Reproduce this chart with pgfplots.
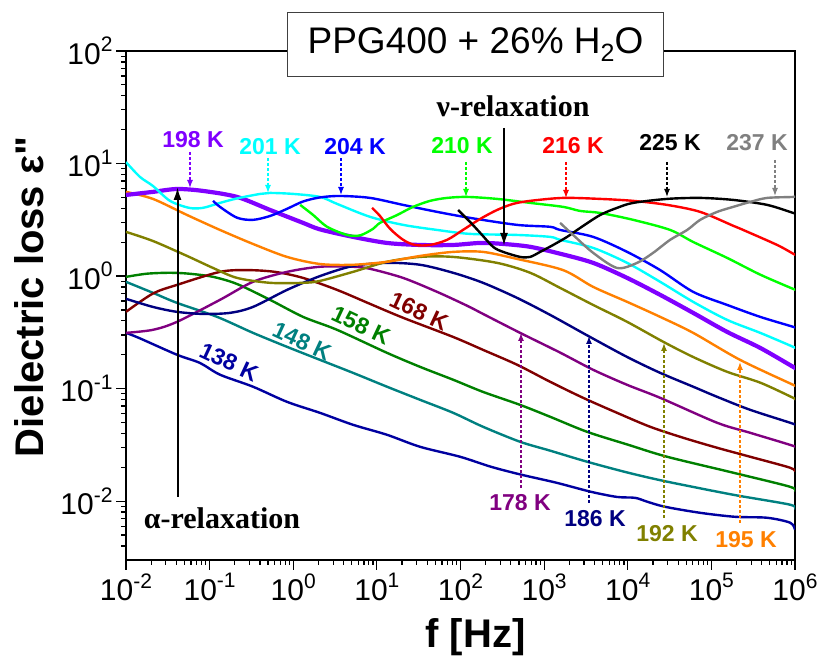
\documentclass[border=0pt]{standalone}
\usepackage{fontspec}
\setmainfont{Liberation Sans}
\newfontfamily\serifbf{Liberation Serif}
\newfontfamily\sansplain{Liberation Sans}[Ligatures=TeXOff]
\usepackage{pgfplots}
\pgfplotsset{compat=1.18}
\usetikzlibrary{arrows.meta}

\definecolor{cNavyA}{RGB}{0,0,160}
\definecolor{cTeal}{RGB}{0,128,128}
\definecolor{cGreenD}{RGB}{0,128,0}
\definecolor{cMaroon}{RGB}{128,0,0}
\definecolor{cPurple}{RGB}{128,0,128}
\definecolor{cNavyB}{RGB}{0,0,128}
\definecolor{cOlive}{RGB}{128,128,0}
\definecolor{cOrange}{RGB}{255,128,0}
\definecolor{cViolet}{RGB}{128,0,255}
\definecolor{cCyan}{RGB}{0,255,255}
\definecolor{cBlue}{RGB}{0,0,255}
\definecolor{cLime}{RGB}{0,255,0}
\definecolor{cRed}{RGB}{255,0,0}
\definecolor{cGray}{RGB}{128,128,128}

\newcommand{\pw}[1]{10\raisebox{0.42em}{\fontsize{21}{21}\selectfont #1}}

\begin{document}
\begin{tikzpicture}
\useasboundingbox (-126pt,-98pt) rectangle (695pt,560pt);
\begin{axis}[
  at={(0pt,0pt)}, anchor=south west,
  scale only axis, width=669pt, height=509pt,
  xmode=log, ymode=log,
  xmin=1e-2, xmax=1e6, ymin=3e-3, ymax=100,
  tick pos=left, tick align=outside,
  major tick length=10pt, minor tick length=5pt,
  axis line style={line width=1.3pt},
  tick style={line width=1.2pt, black},
  xtick={1e-2,1e-1,1,10,100,1e3,1e4,1e5,1e6},
  xticklabels={\pw{-2},\pw{-1},\pw{0},\pw{1},\pw{2},\pw{3},\pw{4},\pw{5},\pw{6}},
  minor xtick={2e-2,3e-2,4e-2,5e-2,6e-2,7e-2,8e-2,9e-2,
    2e-1,3e-1,4e-1,5e-1,6e-1,7e-1,8e-1,9e-1,
    2,3,4,5,6,7,8,9,20,30,40,50,60,70,80,90,
    200,300,400,500,600,700,800,900,
    2e3,3e3,4e3,5e3,6e3,7e3,8e3,9e3,
    2e4,3e4,4e4,5e4,6e4,7e4,8e4,9e4,
    2e5,3e5,4e5,5e5,6e5,7e5,8e5,9e5},
  ytick={1e-2,1e-1,1,10,100},
  yticklabels={\pw{-2},\pw{-1},\pw{0},\pw{1},\pw{2}},
  minor ytick={4e-3,5e-3,6e-3,7e-3,8e-3,9e-3,
    2e-2,3e-2,4e-2,5e-2,6e-2,7e-2,8e-2,9e-2,
    2e-1,3e-1,4e-1,5e-1,6e-1,7e-1,8e-1,9e-1,
    2,3,4,5,6,7,8,9,20,30,40,50,60,70,80,90},
  ticklabel style={font=\fontsize{30}{30}\selectfont},
  every axis plot/.append style={line width=2.4pt, smooth, no markers},
]
% 138 K
\addplot[cNavyA] coordinates {(0.01,0.313) (0.0143,0.282) (0.0407,0.200) (0.0767,0.169) (0.133,0.133) (0.330,0.104) (0.843,0.0763) (2.09,0.0609) (5.19,0.0477) (13.2,0.0389) (32.9,0.0304) (98.9,0.0248) (232,0.0202) (531,0.0172) (1393,0.0146) (3648,0.0121) (7464,0.0109) (12270,0.0107) (17060,0.00989) (28000,0.00891) (73450,0.00788) (192800,0.00726) (464700,0.00712) (877000,0.00643) (1e6,0.00557)};
% 148 K
\addplot[cTeal] coordinates {(0.01,0.889) (0.0210,0.710) (0.0407,0.578) (0.123,0.434) (0.330,0.313) (0.843,0.235) (2.09,0.180) (5.19,0.138) (13.2,0.104) (32.9,0.0795) (81.5,0.0610) (186,0.0458) (516,0.0337) (1180,0.0281) (3268,0.0224) (10115,0.0179) (29580,0.0149) (182300,0.0114) (877000,0.00929) (1e6,0.00839)};
% 158 K
\addplot[cGreenD] coordinates {(0.01,0.984) (0.0178,1.05) (0.0336,1.07) (0.0568,1.05) (0.110,0.984) (0.213,0.85) (0.528,0.615) (1.31,0.434) (3.34,0.333) (13.2,0.208) (32.9,0.156) (81.5,0.120) (186,0.0935) (516,0.0717) (1180,0.0562) (3268,0.0413) (10115,0.0317) (29580,0.0248) (182300,0.0179) (877000,0.0134) (1e6,0.0121)};
% 168 K
\addplot[cMaroon] coordinates {(0.01,0.481) (0.0210,0.70) (0.0407,0.835) (0.133,1.09) (0.280,1.13) (0.605,1.09) (1.31,0.963) (3.34,0.754) (8.29,0.566) (20.6,0.426) (81.5,0.288) (186,0.221) (475,0.163) (1180,0.115) (2929,0.0828) (7464,0.0609) (18535,0.0458) (46000,0.0366) (117300,0.0298) (291000,0.0248) (877000,0.0198) (1e6,0.0182)};
% 178 K
\addplot[cPurple] coordinates {(0.01,0.313) (0.0210,0.333) (0.0407,0.392) (0.133,0.615) (0.330,0.889) (0.843,1.09) (2.09,1.21) (5.19,1.21) (8.29,1.16) (20.6,0.963) (52.5,0.724) (120,0.545) (186,0.461) (516,0.313) (1553,0.209) (3855,0.147) (9840,0.108) (24430,0.0828) (117300,0.0497) (291000,0.0405) (951000,0.031) (1e6,0.0298)};
% 186 K
\addplot[cNavyB] coordinates {(0.01,0.628) (0.0210,0.532) (0.0407,0.481) (0.0834,0.461) (0.175,0.471) (0.330,0.532) (0.843,0.754) (2.09,1.00) (5.19,1.23) (13.2,1.31) (32.9,1.26) (81.5,1.07) (186,0.871) (475,0.640) (1180,0.452) (3360,0.294) (9840,0.191) (24430,0.138) (60540,0.104) (117300,0.0845) (291000,0.0648) (951000,0.0487) (1e6,0.0468)};
% 192 K
\addplot[cOlive] coordinates {(0.01,2.47) (0.0210,2.05) (0.0537,1.51) (0.110,1.18) (0.213,0.963) (0.528,0.871) (1.31,0.871) (2.09,0.906) (5.19,1.09) (13.2,1.34) (32.9,1.48) (81.5,1.48) (274,1.31) (680,1.07) (1553,0.785) (3855,0.554) (9840,0.392) (26500,0.261) (60540,0.191) (154500,0.141) (383700,0.113) (951000,0.0828) (1e6,0.080)};
% 195 K
\addplot[cOrange] coordinates {(0.01,5.60) (0.0210,4.85) (0.0537,3.49) (0.133,2.57) (0.330,1.93) (0.843,1.48) (2.09,1.28) (5.19,1.26) (13.2,1.34) (32.9,1.51) (81.5,1.64) (186,1.64) (475,1.42) (1686,1.13) (3855,0.802) (9840,0.590) (24430,0.434) (60540,0.313) (220800,0.180) (951000,0.108) (1e6,0.106)};
% 198 K
\addplot[cViolet, line width=4.2pt] coordinates {(0.01,5.26) (0.0210,5.60) (0.0407,5.94) (0.0834,5.71) (0.213,5.05) (0.528,3.87) (1.31,2.97) (2.09,2.6) (5.19,2.23) (13.2,1.97) (32.9,1.89) (81.5,1.89) (172,1.97) (324,1.93) (680,1.82) (1553,1.58) (3855,1.31) (9840,0.963) (24430,0.681) (60540,0.471) (154500,0.319) (383700,0.230) (951000,0.156) (1e6,0.153)};
% 201 K
\addplot[cCyan] coordinates {(0.01,10.3) (0.0147,7.6) (0.0210,6.32) (0.0336,4.66) (0.0568,4.04) (0.0834,4.04) (0.133,4.47) (0.213,4.9) (0.401,5.37) (0.528,5.48) (1.0,5.37) (2.09,5.05) (3.34,4.38) (8.29,3.36) (20.6,2.85) (52.5,2.57) (130,2.37) (475,2.32) (1180,2.23) (1553,2.10) (3855,1.78) (9840,1.31) (24430,0.889) (60540,0.590) (154500,0.408) (383700,0.313) (951000,0.235) (1e6,0.230)};
% 204 K
\addplot[cBlue] coordinates {(0.110,4.66) (0.133,4.12) (0.213,3.3) (0.330,3.16) (0.528,3.42) (0.843,3.96) (1.31,4.6) (2.09,5.0) (3.63,5.15) (8.29,4.95) (20.6,4.29) (52.5,3.72) (130,3.29) (475,2.85) (1180,2.74) (1553,2.57) (3855,2.23) (9840,1.64) (24430,1.13) (60540,0.724) (154500,0.554) (383700,0.434) (951000,0.354) (1e6,0.347)};
% 210 K
\addplot[cLime] coordinates {(1.21,4.29) (1.73,3.49) (2.54,2.74) (4.40,2.32) (6.30,2.30) (9.01,2.63) (10.9,2.97) (17.5,3.49) (27.1,4.12) (43.3,4.66) (69.2,4.95) (120,5.05) (274,4.85) (680,4.47) (1686,4.12) (2700,3.79) (4677,3.64) (11614,3.16) (32130,2.57) (60540,2.01) (154500,1.45) (383700,1.03) (951000,0.769) (1e6,0.76)};
% 216 K
\addplot[cRed] coordinates {(8.77,4.04) (10.9,3.42) (14.4,2.63) (20.6,2.10) (28.6,1.89) (43.3,1.89) (69.2,2.10) (107,2.57) (172,3.22) (274,3.87) (426,4.38) (680,4.66) (1686,4.95) (4677,4.85) (11614,4.66) (29580,4.29) (73450,3.72) (182300,2.8) (239900,2.57) (612000,1.89) (951000,1.58) (1e6,1.55)};
% 225 K
\addplot[black] coordinates {(93.6,3.87) (130,3.03) (172,2.42) (245,1.82) (324,1.64) (516,1.48) (680,1.48) (896,1.64) (1282,1.89) (1884,2.23) (2700,2.68) (4677,3.49) (7464,4.04) (11614,4.47) (29580,4.85) (73450,4.95) (182300,4.75) (464700,4.29) (951000,3.64) (1e6,3.6)};
% 237 K
\addplot[cGray] coordinates {(1553,2.97) (2222,2.32) (3855,1.61) (7464,1.18) (12940,1.31) (20130,1.61) (32130,2.10) (51400,2.57) (73450,3.16) (117300,3.72) (182300,4.12) (291000,4.56) (464700,4.95) (951000,5.05) (1e6,5.15)};
\end{axis}

\begin{scope}[x=1pt,y=-1pt,shift={(-126pt,560pt)}]
  % title box
  \node[draw=black!75, line width=1pt, fill=white, minimum width=376pt, minimum height=64pt, inner sep=0pt]
    at (475.5,44.5) {\fontsize{37}{37}\selectfont PPG400 + 26\% H\raisebox{-0.22em}{\fontsize{25}{25}\selectfont 2}O};
  % axis labels
  \node[rotate=90, font=\sansplain\bfseries\fontsize{40}{40}\selectfont] at (29,297) {Dielectric loss ε"};
  \node[anchor=base, font=\bfseries\fontsize{40}{40}\selectfont] at (475.5,647) {f [Hz]};
  % relaxation labels
  \node[font=\serifbf\bfseries\fontsize{30}{30}\selectfont] at (513,106) {ν-relaxation};
  \node[font=\serifbf\bfseries\fontsize{30}{30}\selectfont] at (222,518) {α-relaxation};
  \draw[black, line width=2pt, -{Latex[length=13pt,width=8pt]}] (504,128) -- (504,246);
  \draw[black, line width=2pt, -{Latex[length=13pt,width=8pt]}] (177.5,497) -- (177.5,187);
  % top labels
  \tikzset{lab/.style={font=\bfseries\fontsize{23}{23}\selectfont},
           darr/.style={line width=1.3pt, dash pattern=on 3pt off 2pt, -{Latex[length=8pt,width=6pt]}}}
  \node[lab, text=cViolet] at (193,140) {198 K};
  \draw[darr, cViolet] (190,152) -- (190,188);
  \node[lab, text=cCyan] at (270,147) {201 K};
  \draw[darr, cCyan] (268,158) -- (268,193);
  \node[lab, text=cBlue] at (355,147) {204 K};
  \draw[darr, cBlue] (341,158) -- (341,195);
  \node[lab, text=cLime] at (462,146) {210 K};
  \draw[darr, cLime] (466,162) -- (466,197);
  \node[lab, text=cRed] at (573,146) {216 K};
  \draw[darr, cRed] (566,162) -- (566,198);
  \node[lab, text=black] at (670,143) {225 K};
  \draw[darr, black] (667,162) -- (667,197);
  \node[lab, text=cGray] at (757,143) {237 K};
  \draw[darr, cGray] (775,160) -- (775,196);
  % rotated labels
  \node[lab, text=cNavyA, rotate=-25] at (229,362) {138 K};
  \node[lab, text=cTeal, rotate=-25] at (302,341) {148 K};
  \node[lab, text=cGreenD, rotate=-25] at (361,325) {158 K};
  \node[lab, text=cMaroon, rotate=-25] at (419,311) {168 K};
  % bottom labels
  \node[lab, text=cPurple] at (520,503) {178 K};
  \draw[darr, cPurple] (521,488) -- (521,333);
  \node[lab, text=cNavyB] at (595,519) {186 K};
  \draw[darr, cNavyB] (589,503) -- (589,336);
  \node[lab, text=cOlive] at (667,534) {192 K};
  \draw[darr, cOlive] (664,518) -- (664,343);
  \node[lab, text=cOrange] at (746,540) {195 K};
  \draw[darr, cOrange] (740,523) -- (740,362);
\end{scope}
\end{tikzpicture}
\end{document}
